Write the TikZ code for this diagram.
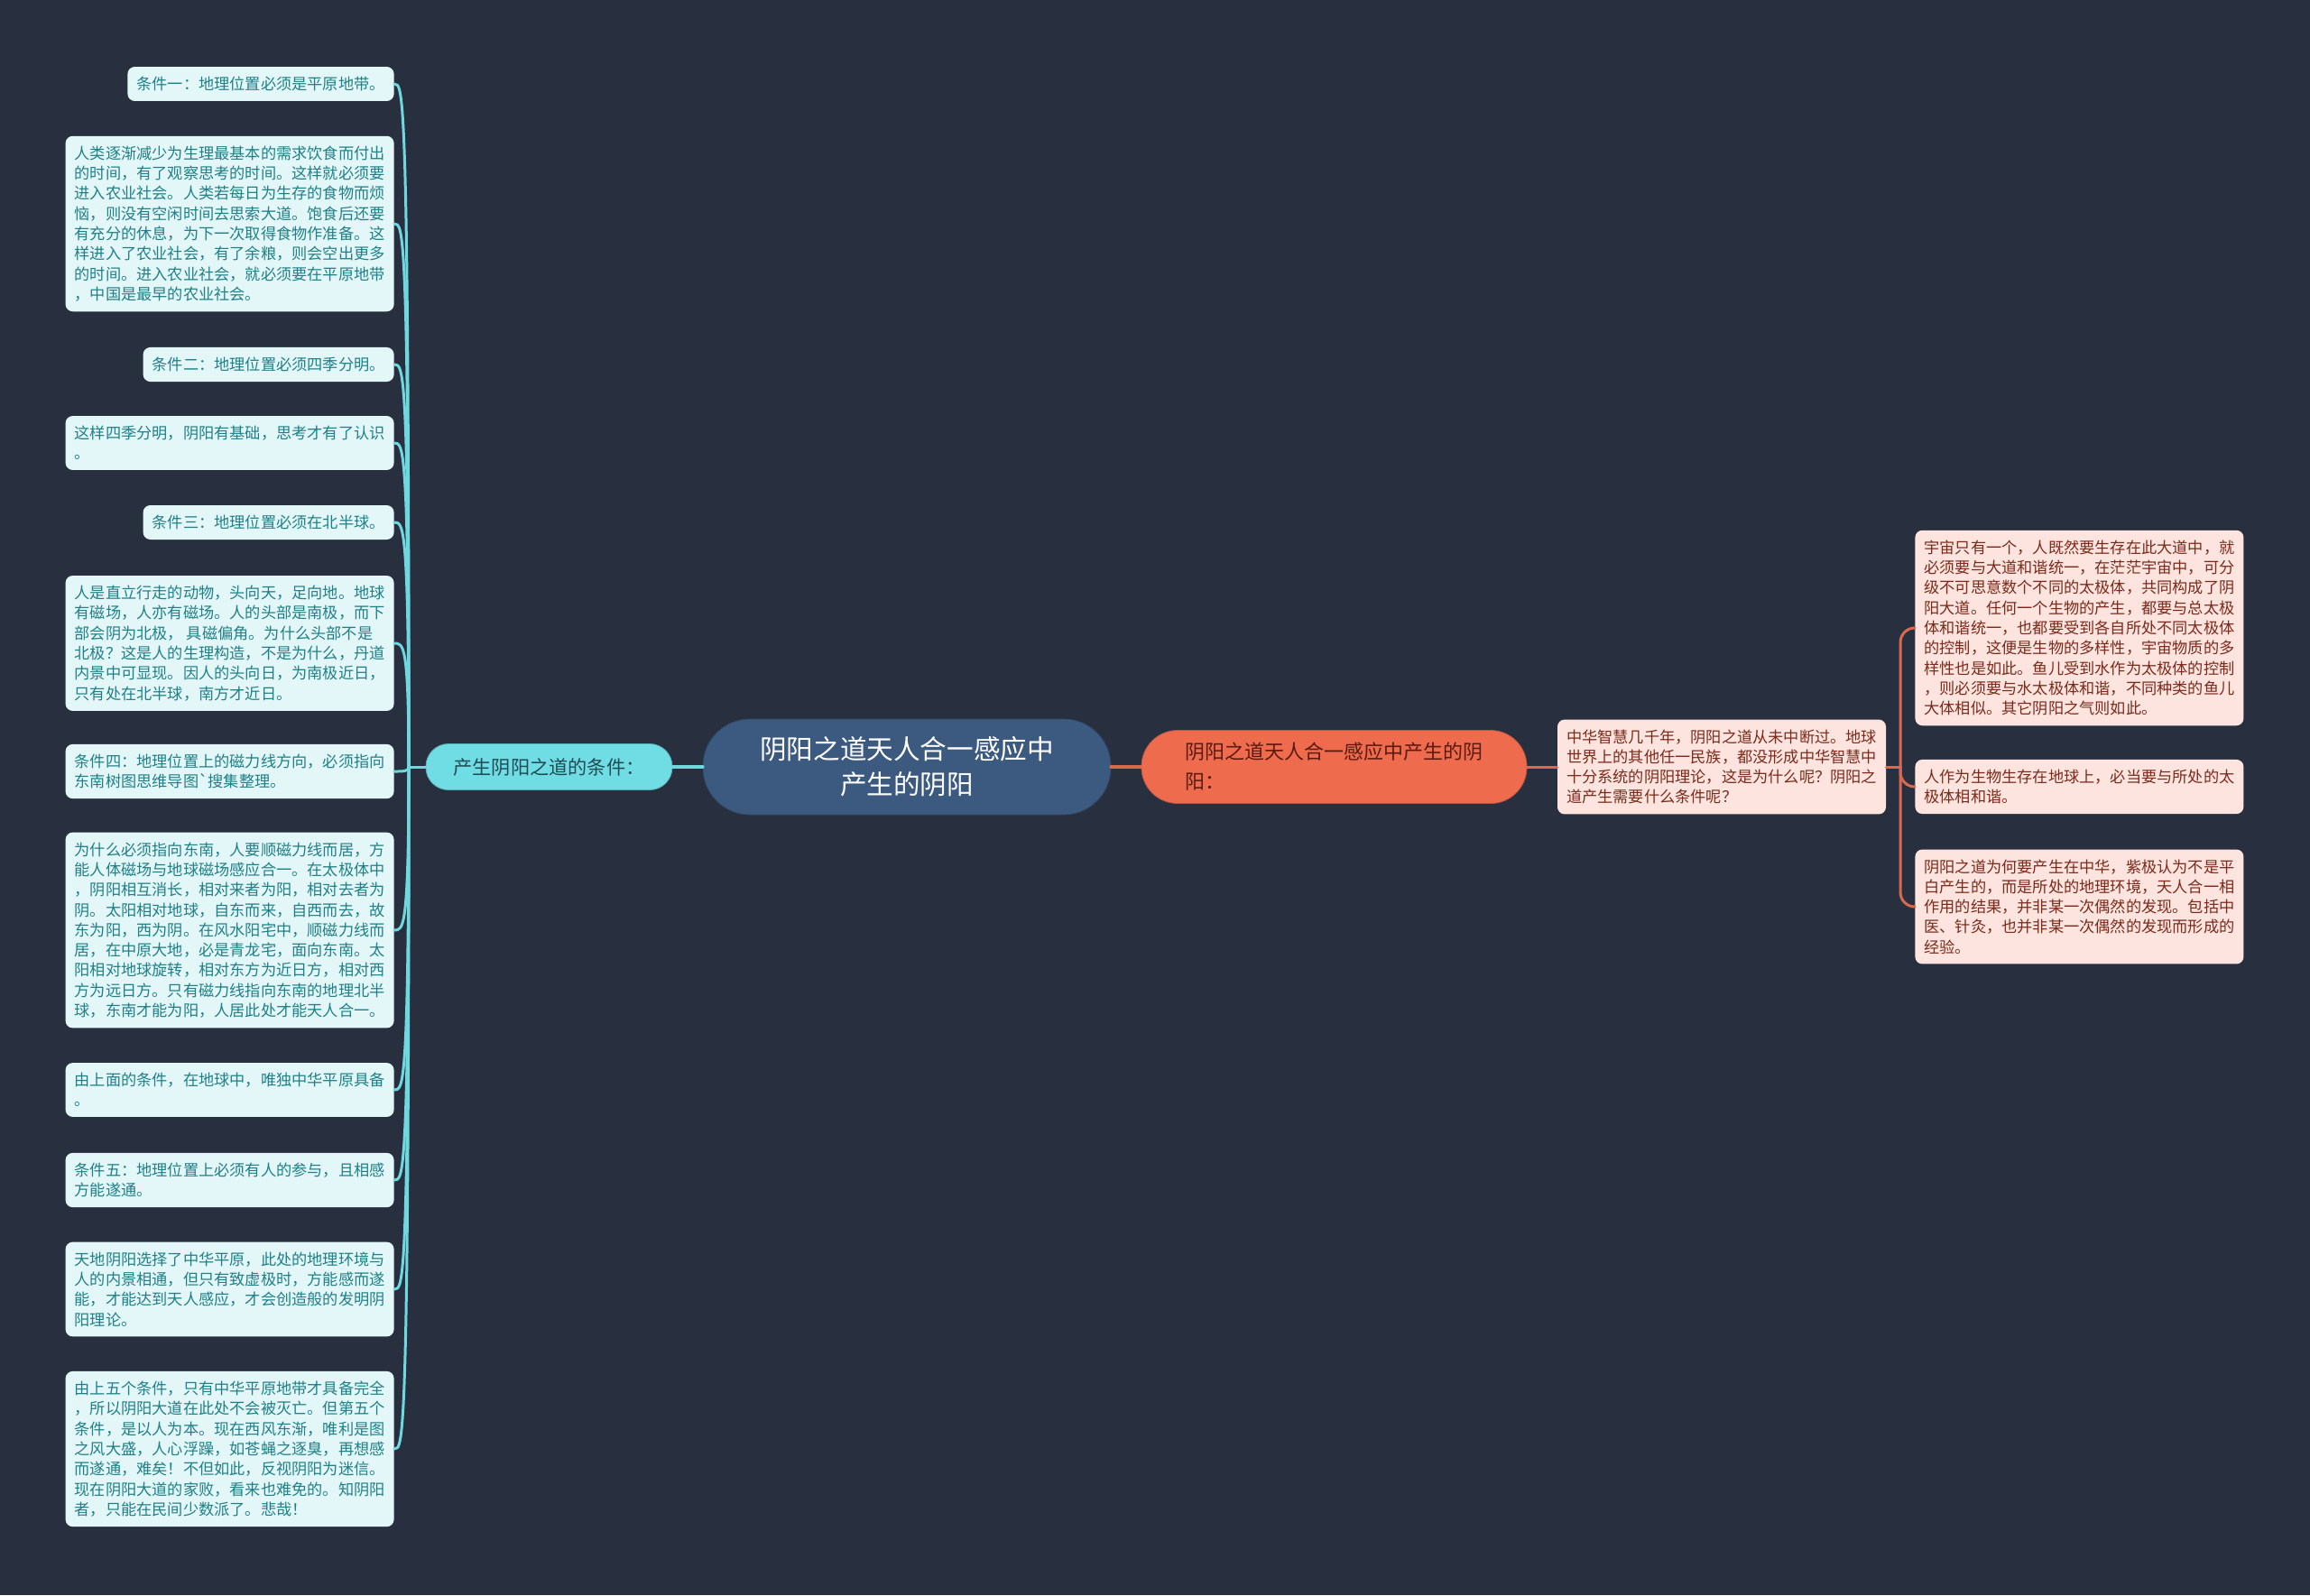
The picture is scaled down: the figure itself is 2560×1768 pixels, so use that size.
\documentclass[tikz,border=0pt]{standalone}
\usepackage{fontspec}
\setmainfont{Noto Sans CJK SC}
\usetikzlibrary{calc}

\definecolor{bgc}{HTML}{283040}
\definecolor{rootc}{HTML}{3C5A7F}
\definecolor{condc}{HTML}{6FDDE3}
\definecolor{condtxt}{HTML}{214B55}
\definecolor{leafc}{HTML}{E3F7F8}
\definecolor{leaftxt}{HTML}{1F8087}
\definecolor{llinec}{HTML}{6FD8DF}
\definecolor{yyc}{HTML}{EE6B4E}
\definecolor{yytxt}{HTML}{5A1A0E}
\definecolor{notec}{HTML}{FDE4DE}
\definecolor{notetxt}{HTML}{7B2A1C}
\definecolor{rlinec}{HTML}{D9694E}

\begin{document}
\begin{tikzpicture}[x=0.5pt,y=-0.5pt,line cap=round,line join=round,
	leaf/.style={rectangle,rounded corners=4pt,fill=leafc,text=leaftxt,align=left,
		font=\fontsize{8.6}{11.15}\selectfont,inner xsep=5pt,inner ysep=5.5pt},
	note/.style={leaf,fill=notec,text=notetxt},
	root/.style={rectangle,rounded corners=26pt,fill=rootc,draw=rootc!80!black,text=white,
		align=center,minimum width=226pt,minimum height=53pt,
		font=\fontsize{14.8}{19.5}\selectfont},
	lline/.style={draw=llinec,line width=1.5pt},
	rline/.style={draw=rlinec,line width=1.5pt}]
	\fill[bgc] (0,0) rectangle (2560,1768);
	\useasboundingbox (0,0) rectangle (2560,1768);

	% centre
	\node[root] (root) at (1005,850) {阴阳之道天人合一感应中\\产生的阴阳};
	\node[rectangle,rounded corners=12.5pt,fill=condc,draw=condc!80!black,text=condtxt,
		minimum width=136.5pt,minimum height=25.5pt,font=\fontsize{10.6}{13}\selectfont]
		(cond) at (608.5,850) {产生阴阳之道的条件：};
	\node[rectangle,rounded corners=20pt,fill=yyc,draw=yyc!80!black,text=yytxt,align=left,
		minimum width=213.5pt,minimum height=40.5pt,font=\fontsize{11}{16.5}\selectfont]
		(yy) at (1478.5,850) {阴阳之道天人合一感应中产生的阴\\阳：};

	%% left branch
	\node[leaf,anchor=east] (c1) at (437,93) {条件一：地理位置必须是平原地带。};
	\node[leaf,anchor=east] (c2) at (437,248) {人类逐渐减少为生理最基本的需求饮食而付出\\的时间，有了观察思考的时间。这样就必须要\\进入农业社会。人类若每日为生存的食物而烦\\恼，则没有空闲时间去思索大道。饱食后还要\\有充分的休息，为下一次取得食物作准备。这\\样进入了农业社会，有了余粮，则会空出更多\\的时间。进入农业社会，就必须要在平原地带\\，中国是最早的农业社会。};
	\node[leaf,anchor=east] (c3) at (437,404) {条件二：地理位置必须四季分明。};
	\node[leaf,anchor=east] (c4) at (437,491) {这样四季分明，阴阳有基础，思考才有了认识\\。};
	\node[leaf,anchor=east] (c5) at (437,579) {条件三：地理位置必须在北半球。};
	\node[leaf,anchor=east] (c6) at (437,713) {人是直立行走的动物，头向天，足向地。地球\\有磁场，人亦有磁场。人的头部是南极，而下\\部会阴为北极，\ 具磁偏角。为什么头部不是\\北极？这是人的生理构造，不是为什么，丹道\\内景中可显现。因人的头向日，为南极近日，\\只有处在北半球，南方才近日。};
	\node[leaf,anchor=east] (c7) at (437,855) {条件四：地理位置上的磁力线方向，必须指向\\东南树图思维导图\textasciigrave 搜集整理。};
	\node[leaf,anchor=east] (c8) at (437,1031) {为什么必须指向东南，人要顺磁力线而居，方\\能人体磁场与地球磁场感应合一。在太极体中\\，阴阳相互消长，相对来者为阳，相对去者为\\阴。太阳相对地球，自东而来，自西而去，故\\东为阳，西为阴。在风水阳宅中，顺磁力线而\\居，在中原大地，必是青龙宅，面向东南。太\\阳相对地球旋转，相对东方为近日方，相对西\\方为远日方。只有磁力线指向东南的地理北半\\球，东南才能为阳，人居此处才能天人合一。};
	\node[leaf,anchor=east] (c9) at (437,1208) {由上面的条件，在地球中，唯独中华平原具备\\。};
	\node[leaf,anchor=east] (c10) at (437,1308) {条件五：地理位置上必须有人的参与，且相感\\方能遂通。};
	\node[leaf,anchor=east] (c11) at (437,1429) {天地阴阳选择了中华平原，此处的地理环境与\\人的内景相通，但只有致虚极时，方能感而遂\\能，才能达到天人感应，才会创造般的发明阴\\阳理论。};
	\node[leaf,anchor=east] (c12) at (437,1606) {由上五个条件，只有中华平原地带才具备完全\\，所以阴阳大道在此处不会被灭亡。但第五个\\条件，是以人为本。现在西风东渐，唯利是图\\之风大盛，人心浮躁，如苍蝇之逐臭，再想感\\而遂通，难矣！不但如此，反视阴阳为迷信。\\现在阴阳大道的家败，看来也难免的。知阴阳\\者，只能在民间少数派了。悲哉！};

	%% right branch
	\node[note] (why) at (1908,850) {中华智慧几千年，阴阳之道从未中断过。地球\\世界上的其他任一民族，都没形成中华智慧中\\十分系统的阴阳理论，这是为什么呢？阴阳之\\道产生需要什么条件呢？};
	\node[note,anchor=west] (n1) at (2122,696) {宇宙只有一个，人既然要生存在此大道中，就\\必须要与大道和谐统一，在茫茫宇宙中，可分\\级不可思意数个不同的太极体，共同构成了阴\\阳大道。任何一个生物的产生，都要与总太极\\体和谐统一，也都要受到各自所处不同太极体\\的控制，这便是生物的多样性，宇宙物质的多\\样性也是如此。鱼儿受到水作为太极体的控制\\，则必须要与水太极体和谐，不同种类的鱼儿\\大体相似。其它阴阳之气则如此。};
	\node[note,anchor=west] (n2) at (2122,872) {人作为生物生存在地球上，必当要与所处的太\\极体相和谐。};
	\node[note,anchor=west] (n3) at (2122,1005) {阴阳之道为何要产生在中华，紫极认为不是平\\白产生的，而是所处的地理环境，天人合一相\\作用的结果，并非某一次偶然的发现。包括中\\医、针灸，也并非某一次偶然的发现而形成的\\经验。};

	% connectors
	\coordinate (lj) at (453,850);
	\coordinate (rj) at (2106,850);
	\draw[lline,line width=2pt] (root) -- (cond);
	\draw[lline] (cond.west) -- (lj);
	\foreach \n in {c1,c2,c3,c4,c5,c6,c7,c8,c9,c10,c11,c12}
		\draw[lline] (\n.east) .. controls +(10,0) and (lj |- \n.east) .. (lj);
	\draw[rline,line width=2pt] (root) -- (yy);
	\draw[rline] (yy) -- (why);
	\draw[rline] (why.east) -- (rj);
	\foreach \n in {n1,n2,n3}
		\draw[rline,rounded corners=8pt] (rj) |- (\n.west);
\end{tikzpicture}
\end{document}
